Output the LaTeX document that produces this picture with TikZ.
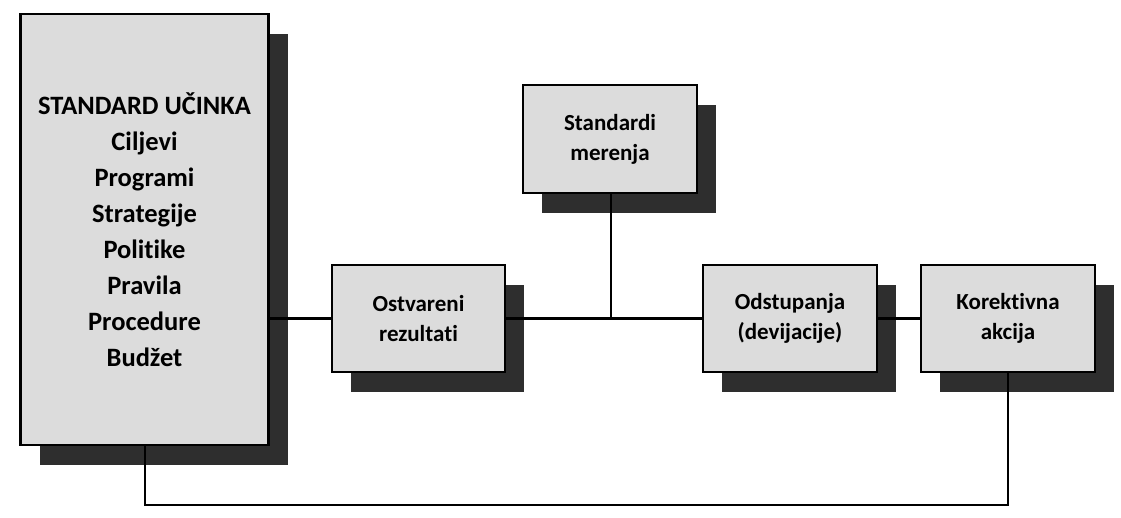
\documentclass[tikz,border=0pt]{standalone}
\usepackage{fontspec}
\setmainfont{Carlito}[Ligatures=NoCommon]
\usetikzlibrary{shadows}
\begin{document}
\begin{tikzpicture}[x=1pt,y=1pt,
  box/.style={draw=black, line width=2.5pt, fill=boxgray, inner sep=0pt, align=center,
    font=\bfseries\fontsize{23}{30}\selectfont,
    drop shadow={shadow xshift=19pt, shadow yshift=-20pt, fill=shadowgray, opacity=1}},
  conn/.style={line width=2.5pt, draw=black}]
\definecolor{boxgray}{HTML}{DCDCDC}
\definecolor{shadowgray}{HTML}{2E2E2E}
\useasboundingbox (0,0) rectangle (1121,-518);
\node[box, minimum width=248pt, minimum height=431pt, font=\bfseries\fontsize{26.5}{36}\selectfont] (std) at (144.5,-229.5)
  {STANDARD UČINKA\\Ciljevi\\Programi\\Strategije\\Politike\\Pravila\\Procedure\\Budžet};
\node[box, minimum width=173pt, minimum height=107pt] (ost) at (418.5,-318.5) {Ostvareni\\rezultati};
\node[box, minimum width=174pt, minimum height=108pt] (mer) at (610,-139) {Standardi\\merenja};
\node[box, minimum width=174pt, minimum height=107pt] (ods) at (790,-318.5) {Odstupanja\\(devijacije)};
\node[box, minimum width=174pt, minimum height=107pt] (kor) at (1008,-318.5) {Korektivna\\akcija};
\coordinate (j) at (611,-318.5);
\coordinate (b1) at (145,-505);
\coordinate (b2) at (1008,-505);
\draw[conn] (std.east |- ost.west) -- (ost.west);
\draw[conn] (ost.east) -- (ods.west);
\draw[conn] (j) -- (j |- mer.south);
\draw[conn] (ods.east) -- (kor.west);
\draw[conn] (kor.south) -- (b2) -- (b1) -- (b1 |- std.south);
\end{tikzpicture}
\end{document}
